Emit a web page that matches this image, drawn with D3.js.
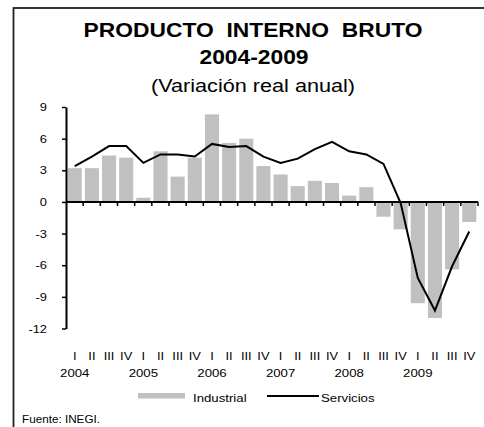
<!DOCTYPE html>
<html>
<head>
<meta charset="utf-8">
<script src="https://cdn.jsdelivr.net/npm/d3@7"></script>
<style>
  body { margin: 0; background: #fff; }
  text { font-family: "Liberation Sans", Arial, sans-serif; fill: #000; }
</style>
</head>
<body>
<div id="chart"></div>
<script>
// data
const years = ["2004", "2005", "2006", "2007", "2008", "2009"];
const quarters = ["I", "II", "III", "IV"];
const industrial = [3.2, 3.2, 4.4, 4.2, 0.4, 4.8, 2.4, 4.2, 8.3, 5.6, 6.0, 3.4,
                    2.6, 1.5, 2.0, 1.8, 0.6, 1.4, -1.4, -2.6, -9.6, -11.0, -6.4, -1.9];
const servicios = [3.4, 4.3, 5.3, 5.3, 3.7, 4.5, 4.5, 4.3, 5.5, 5.2, 5.3, 4.3,
                   3.7, 4.1, 5.0, 5.7, 4.8, 4.5, 3.6, -0.1, -7.2, -10.3, -6.1, -2.8];
const yTicks = [9, 6, 3, 0, -3, -6, -9, -12];

const periods = [];
years.forEach(y => quarters.forEach(q => periods.push(y + "-" + q)));

const width = 484, height = 427;
const stretch = 1.17; // the original text is a bit wide

const svg = d3.select("#chart").append("svg")
  .attr("width", width)
  .attr("height", height);

// text helper, stretched horizontally
function label(x, y, str, size, anchor, weight) {
  return svg.append("text")
    .attr("transform", `translate(${x},${y}) scale(${stretch},1)`)
    .attr("text-anchor", anchor || "start")
    .attr("font-size", size)
    .attr("font-weight", weight || "normal")
    .attr("xml:space", "preserve")
    .text(str);
}

// outer frame
svg.append("rect")
  .attr("x", 13.5).attr("y", 8)
  .attr("width", 500).attr("height", 440)
  .attr("fill", "none")
  .attr("stroke", "#222")
  .attr("stroke-width", 1.8);

// titles
label(253, 36.5, "PRODUCTO  INTERNO  BRUTO", 19.5, "middle", "bold");
label(254, 64, "2004-2009", 19.5, "middle", "bold");
label(253, 91.5, "(Variación real anual)", 18.5, "middle");

// scales
const x = d3.scaleBand().domain(periods).range([66, 478]).paddingInner(0.18).paddingOuter(0.1);
const y = d3.scaleLinear().domain([-12, 9]).range([328.5, 107]);

// bars
svg.selectAll(".bar")
  .data(industrial)
  .enter()
  .append("rect")
  .attr("class", "bar")
  .attr("x", (d, i) => x(periods[i]))
  .attr("width", x.bandwidth())
  .attr("y", d => y(Math.max(0, d)))
  .attr("height", d => Math.abs(y(d) - y(0)))
  .attr("fill", "#c0c0c0");

// y axis
const yAxis = svg.append("g")
  .attr("transform", "translate(66,0)")
  .call(d3.axisLeft(y).tickValues(yTicks).tickFormat(d => String(d)).tickSize(4).tickSizeOuter(0));
yAxis.select(".domain").attr("stroke-width", 2);
yAxis.selectAll(".tick line").attr("stroke-width", 1.5);
yAxis.selectAll("text")
  .attr("font-size", 11)
  .attr("font-family", "Liberation Sans, Arial, sans-serif")
  .attr("x", -19 / stretch)
  .attr("transform", `scale(${stretch},1)`);

// x axis at zero, ticks between categories
const bounds = d3.range(periods.length + 1).map(i => 66 + i * (412 / periods.length));
svg.append("line")
  .attr("x1", 66).attr("x2", 478)
  .attr("y1", y(0)).attr("y2", y(0))
  .attr("stroke", "#000").attr("stroke-width", 2);
svg.selectAll(".xtick")
  .data(bounds.slice(1))
  .enter()
  .append("line")
  .attr("x1", d => d).attr("x2", d => d)
  .attr("y1", y(0)).attr("y2", y(0) + 4)
  .attr("stroke", "#000").attr("stroke-width", 1.5);

// servicios line
const line = d3.line()
  .x((d, i) => x(periods[i]) + x.bandwidth() / 2)
  .y(d => y(d));
svg.append("path")
  .datum(servicios)
  .attr("d", line)
  .attr("fill", "none")
  .attr("stroke", "#000")
  .attr("stroke-width", 2);

// category labels
periods.forEach(p => label(x(p) + x.bandwidth() / 2, 360, p.split("-")[1], 11, "middle"));
years.forEach(yr => label(x(yr + "-I") + x.bandwidth() / 2, 376.5, yr, 11.3, "middle"));

// legend
svg.append("rect").attr("x", 138).attr("y", 393).attr("width", 47).attr("height", 5.5).attr("fill", "#c0c0c0");
label(193, 401.5, "Industrial", 11.3);
svg.append("line").attr("x1", 267).attr("x2", 319).attr("y1", 396).attr("y2", 396)
  .attr("stroke", "#000").attr("stroke-width", 2);
label(321, 401.5, "Servicios", 11.3);

// source
label(22, 423, "Fuente: INEGI.", 10);
</script>
</body>
</html>
